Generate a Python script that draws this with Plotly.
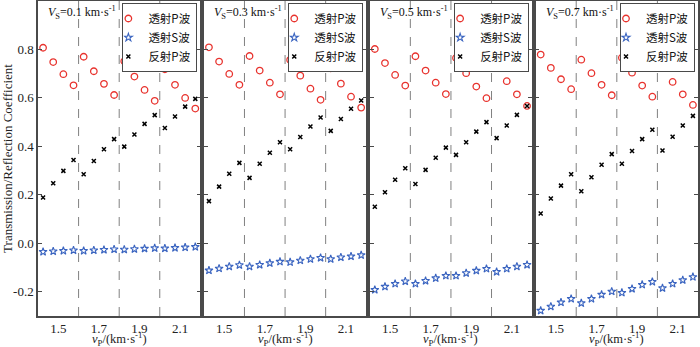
import plotly.graph_objects as go
from plotly.subplots import make_subplots

# ---------------- data ----------------
vp = [1.425, 1.475, 1.525, 1.575, 1.625, 1.675, 1.725, 1.775,
      1.825, 1.875, 1.925, 1.975, 2.025, 2.075, 2.125, 2.175]
vs_values = [0.1, 0.3, 0.5, 0.7]
divider_vp = [1.6, 1.8, 2.0]

trans_p = [
    [0.807, 0.748, 0.698, 0.652, 0.770, 0.710, 0.658, 0.612, 0.751, 0.688, 0.633, 0.588, 0.718, 0.654, 0.600, 0.556],
    [0.809, 0.750, 0.699, 0.654, 0.773, 0.713, 0.663, 0.615, 0.757, 0.692, 0.638, 0.592, 0.722, 0.659, 0.605, 0.560],
    [0.802, 0.744, 0.695, 0.651, 0.772, 0.713, 0.663, 0.616, 0.765, 0.702, 0.647, 0.599, 0.729, 0.669, 0.615, 0.567],
    [0.779, 0.724, 0.677, 0.636, 0.758, 0.702, 0.654, 0.611, 0.766, 0.704, 0.651, 0.605, 0.725, 0.666, 0.615, 0.571],
]
trans_s = [
    [-0.035, -0.033, -0.031, -0.029, -0.031, -0.029, -0.027, -0.025, -0.026, -0.024, -0.022, -0.020, -0.021, -0.019, -0.017, -0.015],
    [-0.112, -0.104, -0.096, -0.090, -0.096, -0.089, -0.082, -0.076, -0.078, -0.071, -0.065, -0.060, -0.065, -0.058, -0.054, -0.049],
    [-0.192, -0.179, -0.167, -0.157, -0.167, -0.155, -0.144, -0.134, -0.134, -0.123, -0.113, -0.105, -0.118, -0.105, -0.096, -0.089],
    [-0.278, -0.261, -0.244, -0.229, -0.247, -0.229, -0.212, -0.199, -0.204, -0.188, -0.171, -0.159, -0.185, -0.167, -0.152, -0.139],
]
refl_p = [
    [0.189, 0.248, 0.299, 0.344, 0.285, 0.340, 0.388, 0.430, 0.399, 0.449, 0.493, 0.529, 0.476, 0.523, 0.564, 0.596],
    [0.174, 0.234, 0.287, 0.332, 0.270, 0.328, 0.374, 0.417, 0.388, 0.439, 0.482, 0.519, 0.464, 0.513, 0.555, 0.589],
    [0.151, 0.211, 0.262, 0.310, 0.245, 0.303, 0.353, 0.395, 0.365, 0.417, 0.461, 0.500, 0.434, 0.486, 0.530, 0.567],
    [0.123, 0.185, 0.238, 0.285, 0.215, 0.273, 0.324, 0.368, 0.328, 0.381, 0.430, 0.469, 0.383, 0.440, 0.486, 0.526],
]
series_names = ["透射P波", "透射S波", "反射P波"]
x_tickvals = [1.5, 1.7, 1.9, 2.1]
y_tickvals = [-0.2, 0.0, 0.2, 0.4, 0.6, 0.8]
x_title = "<i>v</i><sub>P</sub>/(km·s<sup>-1</sup>)"
y_title = "Transmission/Reflection Coefficient"

# ---------------- figure ----------------
W, H = 700, 347
ML, MR, MT, MB = 38, 2, 1, 31
PW = W - ML - MR
PH = H - MT - MB
gap_px = 3.5

fig = make_subplots(rows=1, cols=4, horizontal_spacing=gap_px / PW)

serif = "Liberation Serif, Times New Roman, serif"
cjk = "Noto Sans CJK SC"
red = "#e8332e"
blue = "#3a64c0"
axis_col = "#4a4a4a"

for i in range(4):
    col = i + 1
    lg = "legend" if i == 0 else f"legend{col}"
    fig.add_trace(go.Scatter(
        x=vp, y=trans_p[i], mode="markers", name=series_names[0], legend=lg,
        marker=dict(symbol="circle-open", size=6.5, color=red, line=dict(width=1.3, color=red))),
        row=1, col=col)
    fig.add_trace(go.Scatter(
        x=vp, y=trans_s[i], mode="markers", name=series_names[1], legend=lg,
        marker=dict(symbol="star-open", size=6, color=blue, line=dict(width=1.1, color=blue))),
        row=1, col=col)
    fig.add_trace(go.Scatter(
        x=vp, y=refl_p[i], mode="markers", name=series_names[2], legend=lg,
        marker=dict(symbol="x-thin-open", size=4, color="black", line=dict(width=1.5, color="black"))),
        row=1, col=col)
    for d in divider_vp:
        fig.add_vline(x=d, line=dict(color="#808080", width=1, dash="dash"), row=1, col=col)

    fig.update_xaxes(
        range=[1.40, 2.20], tickvals=x_tickvals, ticktext=[f"{v:.1f}" for v in x_tickvals],
        ticks="", showgrid=False, zeroline=False, showline=True, mirror=True,
        linecolor=axis_col, linewidth=1.5, automargin=False,
        tickfont=dict(family=serif, size=13, color="#222"),
        row=1, col=col)
    fig.update_yaxes(
        range=[-0.3, 1.0], tickvals=y_tickvals,
        ticktext=[f"{v:.1f}" for v in y_tickvals],
        ticks="inside", ticklen=4, tickcolor=axis_col, tickwidth=1,
        showgrid=False, zeroline=False, showline=True, mirror="ticks",
        linecolor=axis_col, linewidth=1.5, showticklabels=(i == 0), automargin=False,
        tickfont=dict(family=serif, size=13, color="#222"),
        row=1, col=col)

    dom = fig.layout[("xaxis" if i == 0 else f"xaxis{col}")].domain
    fig.add_annotation(
        x=dom[0] + 8 / PW, y=1 - 12 / PH, xref="paper", yref="paper",
        xanchor="left", yanchor="middle", showarrow=False,
        text=f"<i>V</i><sub>S</sub>={vs_values[i]} km·s<sup>-1</sup>",
        font=dict(family=serif, size=12, color="#111"))
    # x-axis title, placed below the tick labels
    fig.add_annotation(
        x=(dom[0] + dom[1]) / 2, y=-(339 - (H - MB)) / PH, xref="paper", yref="paper",
        xanchor="center", yanchor="middle", showarrow=False, text=x_title,
        font=dict(family=serif, size=12.5, color="#222"))

    fig.layout[lg] = dict(
        x=dom[1] - 3 / PW, y=1 - 2 / PH, xanchor="right", yanchor="top",
        bgcolor="white", bordercolor=axis_col, borderwidth=1,
        font=dict(family=cjk, size=11.5, color="#111"),
        itemwidth=30, indentation=-15, tracegroupgap=0)

fig.update_yaxes(title=dict(text=y_title, standoff=4,
                            font=dict(family=serif, size=13, color="#222")), row=1, col=1)

fig.update_layout(
    width=W, height=H, margin=dict(l=ML, r=MR, t=MT, b=MB, autoexpand=False),
    plot_bgcolor="white", paper_bgcolor="white", showlegend=True,
)

fig.write_html("out.html", config={"displayModeBar": False},
               post_script="document.body.style.margin='0';document.body.style.overflow='hidden';")
